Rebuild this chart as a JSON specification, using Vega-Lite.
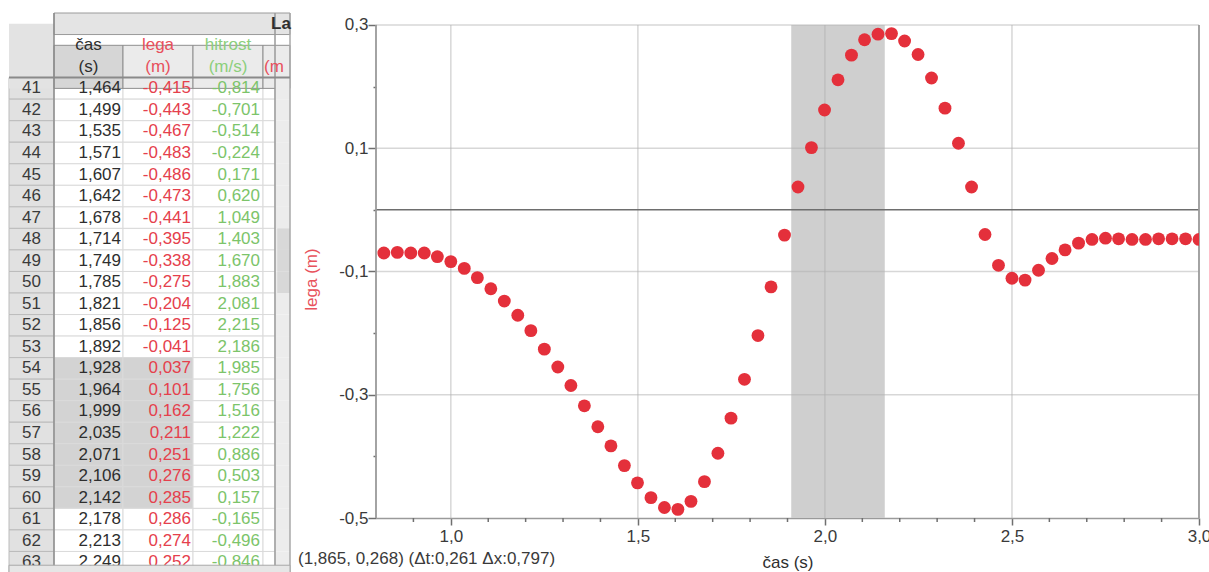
{
  "$schema": "https://vega.github.io/schema/vega-lite/v6.json",
  "background": "#ffffff",
  "padding": {"left": 8, "top": 12, "right": 0, "bottom": 0},
  "spacing": 86,
  "bounds": "flush",
  "config": {"view": {"stroke": null}, "font": "Liberation Sans", "axis": {"labelOverlap": false}},
  "datasets": {
    "tbl": [
      {"r": "h0", "k": "h0"},
      {"r": "hA", "k": "h", "t": "čas", "lega": "lega", "v": "hitrost", "p": ""},
      {"r": "hB", "k": "h", "t": "(s)", "lega": "(m)", "v": "(m/s)", "p": "(m"},
      {"r": "41", "k": "d", "t": "1,464", "lega": "-0,415", "v": "-0,814"},
      {"r": "42", "k": "d", "t": "1,499", "lega": "-0,443", "v": "-0,701"},
      {"r": "43", "k": "d", "t": "1,535", "lega": "-0,467", "v": "-0,514"},
      {"r": "44", "k": "d", "t": "1,571", "lega": "-0,483", "v": "-0,224"},
      {"r": "45", "k": "d", "t": "1,607", "lega": "-0,486", "v": "0,171"},
      {"r": "46", "k": "d", "t": "1,642", "lega": "-0,473", "v": "0,620"},
      {"r": "47", "k": "d", "t": "1,678", "lega": "-0,441", "v": "1,049"},
      {"r": "48", "k": "d", "t": "1,714", "lega": "-0,395", "v": "1,403"},
      {"r": "49", "k": "d", "t": "1,749", "lega": "-0,338", "v": "1,670"},
      {"r": "50", "k": "d", "t": "1,785", "lega": "-0,275", "v": "1,883"},
      {"r": "51", "k": "d", "t": "1,821", "lega": "-0,204", "v": "2,081"},
      {"r": "52", "k": "d", "t": "1,856", "lega": "-0,125", "v": "2,215"},
      {"r": "53", "k": "d", "t": "1,892", "lega": "-0,041", "v": "2,186"},
      {"r": "54", "k": "s", "t": "1,928", "lega": "0,037", "v": "1,985"},
      {"r": "55", "k": "s", "t": "1,964", "lega": "0,101", "v": "1,756"},
      {"r": "56", "k": "s", "t": "1,999", "lega": "0,162", "v": "1,516"},
      {"r": "57", "k": "s", "t": "2,035", "lega": "0,211", "v": "1,222"},
      {"r": "58", "k": "s", "t": "2,071", "lega": "0,251", "v": "0,886"},
      {"r": "59", "k": "s", "t": "2,106", "lega": "0,276", "v": "0,503"},
      {"r": "60", "k": "s", "t": "2,142", "lega": "0,285", "v": "0,157"},
      {"r": "61", "k": "d", "t": "2,178", "lega": "0,286", "v": "-0,165"},
      {"r": "62", "k": "d", "t": "2,213", "lega": "0,274", "v": "-0,496"},
      {"r": "63", "k": "d", "t": "2,249", "lega": "0,252", "v": "-0,846"}
    ],
    "pts": [
      {"t": 0.821, "lega": -0.070}, {"t": 0.857, "lega": -0.069}, {"t": 0.893, "lega": -0.070},
      {"t": 0.929, "lega": -0.070}, {"t": 0.964, "lega": -0.076}, {"t": 1.000, "lega": -0.084},
      {"t": 1.036, "lega": -0.095}, {"t": 1.071, "lega": -0.110}, {"t": 1.107, "lega": -0.128},
      {"t": 1.143, "lega": -0.148}, {"t": 1.179, "lega": -0.171}, {"t": 1.214, "lega": -0.196},
      {"t": 1.250, "lega": -0.226}, {"t": 1.286, "lega": -0.255}, {"t": 1.321, "lega": -0.285},
      {"t": 1.357, "lega": -0.318}, {"t": 1.393, "lega": -0.352}, {"t": 1.428, "lega": -0.383},
      {"t": 1.464, "lega": -0.415}, {"t": 1.499, "lega": -0.443}, {"t": 1.535, "lega": -0.467},
      {"t": 1.571, "lega": -0.483}, {"t": 1.607, "lega": -0.486}, {"t": 1.642, "lega": -0.473},
      {"t": 1.678, "lega": -0.441}, {"t": 1.714, "lega": -0.395}, {"t": 1.749, "lega": -0.338},
      {"t": 1.785, "lega": -0.275}, {"t": 1.821, "lega": -0.204}, {"t": 1.856, "lega": -0.125},
      {"t": 1.892, "lega": -0.041}, {"t": 1.928, "lega": 0.037}, {"t": 1.964, "lega": 0.101},
      {"t": 1.999, "lega": 0.162}, {"t": 2.035, "lega": 0.211}, {"t": 2.071, "lega": 0.251},
      {"t": 2.106, "lega": 0.276}, {"t": 2.142, "lega": 0.285}, {"t": 2.178, "lega": 0.286},
      {"t": 2.213, "lega": 0.274}, {"t": 2.249, "lega": 0.252}, {"t": 2.285, "lega": 0.214},
      {"t": 2.321, "lega": 0.165}, {"t": 2.357, "lega": 0.108}, {"t": 2.392, "lega": 0.037},
      {"t": 2.428, "lega": -0.040}, {"t": 2.464, "lega": -0.090}, {"t": 2.500, "lega": -0.111},
      {"t": 2.535, "lega": -0.114}, {"t": 2.571, "lega": -0.098}, {"t": 2.607, "lega": -0.079},
      {"t": 2.642, "lega": -0.065}, {"t": 2.678, "lega": -0.054}, {"t": 2.714, "lega": -0.048},
      {"t": 2.750, "lega": -0.046}, {"t": 2.785, "lega": -0.047}, {"t": 2.821, "lega": -0.048},
      {"t": 2.857, "lega": -0.048}, {"t": 2.892, "lega": -0.047}, {"t": 2.928, "lega": -0.047},
      {"t": 2.964, "lega": -0.047}, {"t": 3.000, "lega": -0.048}
    ],
    "shade": [{"t0": 1.910, "t1": 2.160}],
    "gx": [{"v": 1.0}, {"v": 1.5}, {"v": 2.0}, {"v": 2.5}],
    "gy": [{"v": 0.3}, {"v": 0.1}, {"v": -0.1}, {"v": -0.3}],
    "minor": [{"v": 0.9}, {"v": 1.1}, {"v": 1.2}, {"v": 1.3}, {"v": 1.4}, {"v": 1.6}, {"v": 1.7}, {"v": 1.8}, {"v": 1.9}, {"v": 2.1}, {"v": 2.2}, {"v": 2.3}, {"v": 2.4}, {"v": 2.6}, {"v": 2.7}, {"v": 2.8}, {"v": 2.9}],
    "frame": [{"v": 0.8}, {"v": 3.0}],
    "zero": [{"v": 0}],
    "foot": [{"s": "(1,865, 0,268) (Δt:0,261 Δx:0,797)"}]
  },
  "hconcat": [
    {
      "width": 281,
      "height": 560,
      "data": {"name": "tbl"},
      "layer": [
        {
          "transform": [{"filter": "datum.k==='d' || datum.k==='s'"}],
          "mark": {"type": "rect", "fill": "#e1e1e1", "stroke": "#bcbcbc", "strokeWidth": 1},
          "encoding": {
            "x": {"datum": 0, "type": "quantitative", "scale": {"domain": [0, 1, 2, 3, 4, 5, 6], "range": [0, 45, 114, 184, 254, 266, 281], "nice": false, "zero": false}, "axis": null},
            "x2": {"datum": 1},
            "y": {"field": "r", "type": "nominal", "scale": {"type": "band", "domain": ["h0", "hA", "hB", "41", "42", "43", "44", "45", "46", "47", "48", "49", "50", "51", "52", "53", "54", "55", "56", "57", "58", "59", "60", "61", "62", "63"], "paddingInner": 0, "paddingOuter": 0}, "axis": null}
          }
        },
        {
          "transform": [{"filter": "datum.r==='h0'"}],
          "mark": {"type": "rect", "fill": "#e3e3e3"},
          "encoding": {"x": {"datum": 0}, "x2": {"datum": 1}, "y": {"datum": "h0", "type": "nominal"}, "y2": {"datum": "41"}}
        },
        {
          "transform": [{"filter": "datum.k==='d' || datum.k==='s'"}],
          "mark": {"type": "rect", "stroke": "#dadada", "strokeWidth": 1},
          "encoding": {"x": {"datum": 1}, "x2": {"datum": 2}, "y": {"field": "r", "type": "nominal"},
            "fill": {"condition": {"test": "datum.k==='s'", "value": "#d3d3d3"}, "value": "#ffffff"}}
        },
        {
          "transform": [{"filter": "datum.k==='d' || datum.k==='s'"}],
          "mark": {"type": "rect", "stroke": "#dadada", "strokeWidth": 1},
          "encoding": {"x": {"datum": 2}, "x2": {"datum": 3}, "y": {"field": "r", "type": "nominal"},
            "fill": {"condition": {"test": "datum.k==='s'", "value": "#d3d3d3"}, "value": "#ffffff"}}
        },
        {
          "transform": [{"filter": "datum.k==='d' || datum.k==='s'"}],
          "mark": {"type": "rect", "stroke": "#dadada", "strokeWidth": 1, "fill": "#ffffff"},
          "encoding": {"x": {"datum": 3}, "x2": {"datum": 4}, "y": {"field": "r", "type": "nominal"}}
        },
        {
          "transform": [{"filter": "datum.k==='d' || datum.k==='s'"}],
          "mark": {"type": "rect", "stroke": "#dadada", "strokeWidth": 1, "fill": "#ffffff"},
          "encoding": {"x": {"datum": 4}, "x2": {"datum": 5}, "y": {"field": "r", "type": "nominal"}}
        },
        {
          "transform": [{"filter": "datum.r==='h0'"}],
          "mark": {"type": "rect", "fill": "#e4e4e4", "stroke": "#9a9a9a", "strokeWidth": 1},
          "encoding": {"x": {"datum": 1}, "x2": {"datum": 6}, "y": {"field": "r", "type": "nominal"}}
        },
        {
          "transform": [{"filter": "datum.r==='h0'"}],
          "mark": {"type": "rect", "fill": "#d6d6d6", "stroke": "#8f8f8f", "strokeWidth": 1},
          "encoding": {"x": {"datum": 1}, "x2": {"datum": 2}, "y": {"datum": "hA", "type": "nominal"}, "y2": {"datum": "41"}}
        },
        {
          "transform": [{"filter": "datum.r==='h0'"}],
          "mark": {"type": "rect", "fill": "#ebebeb", "stroke": "#8f8f8f", "strokeWidth": 1},
          "encoding": {"x": {"datum": 2}, "x2": {"datum": 3}, "y": {"datum": "hA", "type": "nominal"}, "y2": {"datum": "41"}}
        },
        {
          "transform": [{"filter": "datum.r==='h0'"}],
          "mark": {"type": "rect", "fill": "#ebebeb", "stroke": "#8f8f8f", "strokeWidth": 1},
          "encoding": {"x": {"datum": 3}, "x2": {"datum": 4}, "y": {"datum": "hA", "type": "nominal"}, "y2": {"datum": "41"}}
        },
        {
          "transform": [{"filter": "datum.r==='h0'"}],
          "mark": {"type": "rect", "fill": "#ebebeb", "stroke": "#8f8f8f", "strokeWidth": 1},
          "encoding": {"x": {"datum": 4}, "x2": {"datum": 6}, "y": {"datum": "hA", "type": "nominal"}, "y2": {"datum": "41"}}
        },
        {
          "transform": [{"filter": "datum.k==='d' || datum.k==='s'"}],
          "mark": {"type": "rect", "fill": "#ececec"},
          "encoding": {"x": {"datum": 5}, "x2": {"datum": 6}, "y": {"field": "r", "type": "nominal"}}
        },
        {
          "transform": [{"filter": "datum.r==='48' || datum.r==='49' || datum.r==='50'"}],
          "mark": {"type": "rect", "fill": "#d8d8d8"},
          "encoding": {"x": {"datum": 5.15}, "x2": {"datum": 6}, "y": {"field": "r", "type": "nominal"}}
        },
        {
          "transform": [{"filter": "datum.r==='h0'"}],
          "mark": {"type": "rule", "color": "#8a8a8a", "strokeWidth": 1.5},
          "encoding": {"x": {"datum": 1}}
        },
        {
          "transform": [{"filter": "datum.r==='h0'"}],
          "mark": {"type": "rule", "color": "#9a9a9a", "strokeWidth": 1.5},
          "encoding": {"x": {"datum": 5}}
        },
        {
          "transform": [{"filter": "datum.r==='h0'"}],
          "mark": {"type": "rule", "color": "#a8a8a8", "strokeWidth": 1.5},
          "encoding": {"x": {"datum": 6}}
        },
        {
          "transform": [{"filter": "datum.r==='h0'"}],
          "mark": {"type": "rule", "color": "#8a8a8a", "strokeWidth": 2},
          "encoding": {"y": {"datum": "41", "type": "nominal", "bandPosition": 0}}
        },
        {
          "transform": [{"filter": "datum.k==='d' || datum.k==='s'"}],
          "mark": {"type": "text", "fontSize": 17, "color": "#3a3a3a", "align": "center"},
          "encoding": {"x": {"datum": 0.5}, "y": {"field": "r", "type": "nominal"}, "text": {"field": "r"}}
        },
        {
          "transform": [{"filter": "datum.k==='d' || datum.k==='s'"}],
          "mark": {"type": "text", "fontSize": 17, "color": "#2e2e2e", "align": "right", "dx": -2},
          "encoding": {"x": {"datum": 2}, "y": {"field": "r", "type": "nominal"}, "text": {"field": "t"}}
        },
        {
          "transform": [{"filter": "datum.k==='d' || datum.k==='s'"}],
          "mark": {"type": "text", "fontSize": 17, "color": "#e5404c", "align": "right", "dx": -2},
          "encoding": {"x": {"datum": 3}, "y": {"field": "r", "type": "nominal"}, "text": {"field": "lega"}}
        },
        {
          "transform": [{"filter": "datum.k==='d' || datum.k==='s'"}],
          "mark": {"type": "text", "fontSize": 17, "color": "#7cc46a", "align": "right", "dx": -3},
          "encoding": {"x": {"datum": 4}, "y": {"field": "r", "type": "nominal"}, "text": {"field": "v"}}
        },
        {
          "transform": [{"filter": "datum.k==='h'"}],
          "mark": {"type": "text", "fontSize": 17, "color": "#2e2e2e", "align": "center"},
          "encoding": {"x": {"datum": 1.5}, "y": {"field": "r", "type": "nominal"}, "text": {"field": "t"}}
        },
        {
          "transform": [{"filter": "datum.k==='h'"}],
          "mark": {"type": "text", "fontSize": 17, "color": "#e8505c", "align": "center"},
          "encoding": {"x": {"datum": 2.5}, "y": {"field": "r", "type": "nominal"}, "text": {"field": "lega"}}
        },
        {
          "transform": [{"filter": "datum.k==='h'"}],
          "mark": {"type": "text", "fontSize": 17, "color": "#8ccf7c", "align": "center"},
          "encoding": {"x": {"datum": 3.5}, "y": {"field": "r", "type": "nominal"}, "text": {"field": "v"}}
        },
        {
          "transform": [{"filter": "datum.k==='h'"}],
          "mark": {"type": "text", "fontSize": 17, "color": "#e8505c", "align": "left", "dx": 1, "clip": true},
          "encoding": {"x": {"datum": 4}, "y": {"field": "r", "type": "nominal"}, "text": {"field": "p"}}
        },
        {
          "transform": [{"filter": "datum.r==='h0'"}],
          "mark": {"type": "text", "fontSize": 17, "fontWeight": "bold", "color": "#2e2e2e", "align": "left", "dx": 8},
          "encoding": {"x": {"datum": 4}, "y": {"field": "r", "type": "nominal"}, "text": {"value": "La"}}
        },
        {
          "transform": [{"filter": "datum.r==='63'"}],
          "mark": {"type": "rect", "fill": "#e6e6e6", "stroke": "#a8a8a8", "strokeWidth": 1, "height": 8, "yOffset": 7},
          "encoding": {"x": {"datum": 0}, "x2": {"datum": 6}, "y": {"field": "r", "type": "nominal"}}
        }
      ]
    },
    {
      "width": 823,
      "height": 505,
      "layer": [
        {
          "data": {"name": "shade"},
          "mark": {"type": "rect", "color": "#cfcfcf"},
          "encoding": {
            "x": {"field": "t0", "type": "quantitative",
              "scale": {"domain": [0.8, 3.0], "nice": false, "zero": false},
              "axis": {
                "title": "čas (s)",
                "values": [1.0, 1.5, 2.0, 2.5, 3.0],
                "labelExpr": "replace(format(datum.value,'.1f'),'.',',')",
                "tickSize": 7,
                "grid": false,
                "domainColor": "#9a9a9a", "domainWidth": 1.5,
                "tickColor": "#6f6f6f", "tickWidth": 1.5,
                "labelColor": "#3a3a3a", "labelFontSize": 17, "labelPadding": 3,
                "labelFlush": false, "labelOverlap": false,
                "titleColor": "#2e2e2e", "titleFontSize": 17, "titleFontWeight": "normal", "titlePadding": 10
              }
            },
            "x2": {"field": "t1"},
            "y": {"datum": -0.5, "type": "quantitative",
              "scale": {"domain": [-0.5, 0.3194], "nice": false, "zero": false},
              "axis": {
                "title": "lega (m)",
                "values": [-0.5, -0.4, -0.3, -0.2, -0.1, 0, 0.1, 0.2, 0.3],
                "labelExpr": "abs(round(datum.value*10))%2==1 ? replace(replace(format(datum.value,'.1f'),'.',','),'−','-') : ''",
                "tickSize": {"condition": {"test": "abs(round(datum.value*10))%2==1", "value": 8}, "value": 3},
                "domain": false, "grid": false,
                "tickColor": "#6f6f6f", "tickWidth": 1.5,
                "labelColor": "#3a3a3a", "labelFontSize": 17, "labelPadding": 0,
                "labelFlush": false, "labelOverlap": false,
                "titleColor": "#e8525c", "titleFontSize": 17, "titleFontWeight": "normal", "titlePadding": 18,
                "titleY": 266
              }
            },
            "y2": {"datum": 0.3}
          }
        },
        {
          "data": {"name": "gx"},
          "mark": {"type": "rule", "color": "#b0b0b0", "opacity": 0.5, "strokeWidth": 1.5},
          "encoding": {"x": {"field": "v", "type": "quantitative"}, "y": {"datum": -0.5}, "y2": {"datum": 0.3}}
        },
        {
          "data": {"name": "gy"},
          "mark": {"type": "rule", "color": "#b0b0b0", "opacity": 0.5, "strokeWidth": 1.5},
          "encoding": {"y": {"field": "v", "type": "quantitative"}, "x": {"datum": 0.8}, "x2": {"datum": 3.0}}
        },
        {
          "data": {"name": "zero"},
          "mark": {"type": "rule", "color": "#6e6e6e", "strokeWidth": 1.5},
          "encoding": {"y": {"field": "v", "type": "quantitative"}, "x": {"datum": 0.8}, "x2": {"datum": 3.0}}
        },
        {
          "data": {"name": "frame"},
          "mark": {"type": "rule", "color": "#9a9a9a", "strokeWidth": 1.8},
          "encoding": {"x": {"field": "v", "type": "quantitative"}, "y": {"datum": -0.5}, "y2": {"datum": 0.3}}
        },
        {
          "data": {"name": "minor"},
          "mark": {"type": "tick", "orient": "vertical", "size": 4, "thickness": 1.5, "color": "#6f6f6f", "yOffset": 2, "opacity": 1},
          "encoding": {"x": {"field": "v", "type": "quantitative"}, "y": {"datum": -0.5}}
        },
        {
          "data": {"name": "pts"},
          "mark": {"type": "circle", "size": 165, "opacity": 1, "color": "#e4303b", "clip": true},
          "encoding": {"x": {"field": "t", "type": "quantitative"}, "y": {"field": "lega", "type": "quantitative"}}
        },
        {
          "data": {"name": "foot"},
          "mark": {"type": "text", "align": "left", "baseline": "middle", "dx": -78, "dy": 41, "fontSize": 17, "color": "#3a3a3a"},
          "encoding": {"x": {"datum": 0.8}, "y": {"datum": -0.5}, "text": {"field": "s"}}
        }
      ]
    }
  ]
}
